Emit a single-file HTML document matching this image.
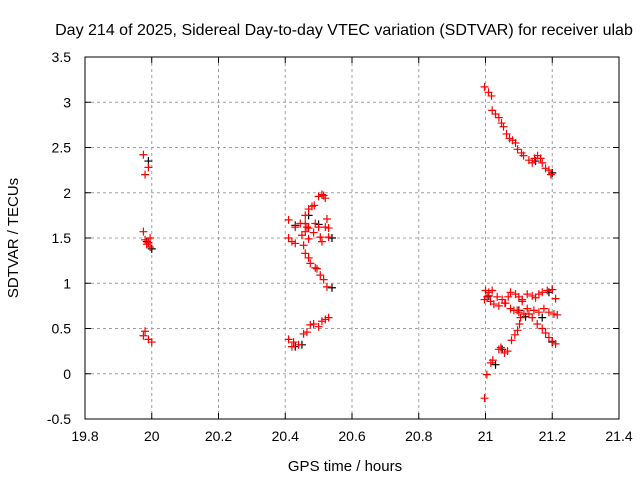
<!DOCTYPE html>
<html><head><meta charset="utf-8"><style>
body{margin:0;background:#fff}
svg{display:block;font-family:"Liberation Sans",sans-serif}
</style></head><body>
<svg id="c" width="640" height="480">
<text x="344" y="35" text-anchor="middle" font-size="16">Day 214 of 2025, Sidereal Day-to-day VTEC variation (SDTVAR) for receiver ulab</text>
<text x="18" y="238" text-anchor="middle" font-size="15" transform="rotate(-90 18 238)">SDTVAR / TECUs</text>
<text x="345" y="471" text-anchor="middle" font-size="15">GPS time / hours</text>
<g id="grid"></g><g id="marks"></g>
<rect x="85" y="57" width="534" height="362" fill="none" stroke="#000"/>
</svg>
<script>
const xTicks=[19.8,20,20.2,20.4,20.6,20.8,21,21.2,21.4];
const yTicks=[-0.5,0,0.5,1,1.5,2,2.5,3,3.5];
const xTickLabels=["19.8","20","20.2","20.4","20.6","20.8","21","21.2","21.4"];
const yTickLabels=["-0.5","0","0.5","1","1.5","2","2.5","3","3.5"];
const redT=[19.975,19.98,19.99,19.975,19.98,19.985,19.99,19.995,19.995,19.975,19.98,19.99,20.0,
20.5,20.51,20.515,20.52,20.487,20.48,20.47,20.46,20.46,20.47,20.475,20.49,20.495,20.505,20.515,20.525,20.52,
20.41,20.43,20.445,20.46,20.465,20.47,20.485,20.46,20.45,20.41,20.42,20.43,20.455,20.47,20.49,20.5,20.525,20.53,20.505,20.51,20.53,
20.53,20.52,20.51,20.5,20.485,20.475,20.465,20.455,20.41,20.425,20.42,20.44,
20.997,21.009,21.018,21.02,21.03,21.04,21.048,21.054,21.063,21.072,21.081,21.09,21.096,21.108,21.114,21.13,21.14,21.147,21.156,21.165,21.17,21.18,21.19,21.196,
20.997,21.005,21.015,21.025,21.04,21.058,21.068,21.075,21.09,21.1,21.11,21.125,21.14,21.15,21.16,21.17,21.185,21.2,21.21,
21.0,21.01,21.02,21.035,21.05,21.06,21.075,21.085,21.095,21.1,21.115,21.13,21.145,21.16,21.175,21.19,21.205,21.215,
21.11,21.125,21.14,21.155,21.17,21.18,21.19,21.2,21.21,
20.997,21.004,21.016,21.022,21.04,21.046,21.057,21.066,21.078,21.088,21.096,21.102,21.105];
const redV=[2.42,2.2,2.28,1.57,1.48,1.43,1.45,1.4,1.5,0.42,0.47,0.38,0.35,
1.96,1.98,1.97,1.94,1.86,1.85,1.82,1.75,1.33,1.28,1.22,1.17,1.16,1.09,1.04,0.96,1.62,
1.7,1.62,1.66,1.66,1.62,1.61,1.56,1.57,1.53,1.5,1.46,1.44,1.42,1.49,1.66,1.62,1.71,1.61,1.51,1.46,1.51,
0.62,0.6,0.58,0.52,0.55,0.54,0.46,0.44,0.38,0.35,0.3,0.32,
3.17,3.11,3.07,2.91,2.87,2.83,2.77,2.73,2.65,2.6,2.58,2.55,2.48,2.44,2.41,2.36,2.33,2.38,2.41,2.38,2.33,2.27,2.25,2.2,
0.82,0.85,0.8,0.77,0.75,0.78,0.85,0.9,0.88,0.85,0.82,0.88,0.86,0.84,0.88,0.9,0.92,0.93,0.83,
0.92,0.9,0.92,0.85,0.82,0.78,0.72,0.7,0.7,0.68,0.66,0.66,0.7,0.68,0.72,0.68,0.66,0.65,
0.8,0.72,0.62,0.55,0.5,0.45,0.4,0.36,0.33,
-0.27,-0.01,0.12,0.15,0.27,0.29,0.23,0.25,0.37,0.43,0.48,0.55,0.62];
const blackT=[19.99,19.985,20.0,20.43,20.45,20.54,20.54,20.43,20.47,20.5,21.03,21.05,21.2,21.2,21.19,21.15,21.2,21.01,21.1,21.12,21.17];
const blackV=[2.35,1.46,1.38,0.3,0.32,0.95,1.5,1.64,1.75,1.65,0.1,0.27,0.35,0.93,0.9,2.35,2.22,0.86,0.7,0.63,0.62];
const NS="http://www.w3.org/2000/svg";
const X=t=>85+(t-19.8)/1.6*534, Y=v=>419-(v+0.5)/4*362;
function mk(tag,at,par){const e=document.createElementNS(NS,tag);for(const k in at)e.setAttribute(k,at[k]);par.appendChild(e);return e;}
const g=document.getElementById('grid'),m=document.getElementById('marks');
xTicks.forEach((t,i)=>{const x=X(t);
if(i>0&&i<xTicks.length-1){const l=mk('line',{x1:x,x2:x,y1:57,y2:419,stroke:'#a0a0a0','stroke-dasharray':'3,3'},g);

}
mk('line',{x1:x,x2:x,y1:419,y2:413,stroke:'#000'},g);mk('line',{x1:x,x2:x,y1:57,y2:63,stroke:'#000'},g);
const tx=mk('text',{x:x,y:441,'text-anchor':'middle','font-size':14},g);tx.textContent=xTickLabels[i];

});
yTicks.forEach((v,i)=>{const y=Y(v);
if(i>0&&i<yTicks.length-1){const l=mk('line',{x1:85,x2:619,y1:y,y2:y,stroke:'#a0a0a0','stroke-dasharray':'3,3'},g);

}
mk('line',{x1:85,x2:91,y1:y,y2:y,stroke:'#000'},g);mk('line',{x1:619,x2:613,y1:y,y2:y,stroke:'#000'},g);
const tx=mk('text',{x:71,y:y+5,'text-anchor':'end','font-size':14},g);tx.textContent=yTickLabels[i];

});
function plus(t,v,c,name){const x=X(t),y=Y(v);
const p=mk('path',{d:`M${x-4},${y}H${x+4}M${x},${y-4}V${y+4}`,stroke:c,'stroke-width':1.2,fill:'none'},m);

}
blackT.forEach((t,i)=>plus(t,blackV[i],'#000','black-point'));
redT.forEach((t,i)=>plus(t,redV[i],'#ff0000','red-point'));
</script>
</body></html>
